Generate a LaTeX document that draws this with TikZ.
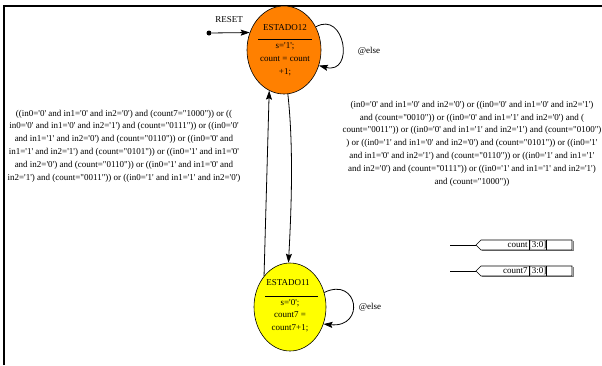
\documentclass[tikz,border=0pt]{standalone}
\usepackage{fontspec}
\setmainfont{Liberation Serif}[Ligatures=TeXOff]
\usetikzlibrary{%
  arrows.meta,%
  shapes.geometric% wg. ellipse
}
\definecolor{stOrange}{RGB}{255,128,0}
\definecolor{stYellow}{RGB}{255,255,0}

\begin{document}
\begin{tikzpicture}[
  x=1pt,y=-1pt,
  font=\fontsize{9}{12.8}\selectfont,
  >={Stealth[length=9pt,width=6pt,inset=1.5pt]},
  line width=0.8pt,
  state/.style={draw,ellipse,line width=0.6pt,minimum width=74pt,minimum height=88pt,inner sep=0pt},
  cond/.style={align=center,inner sep=0pt},
]
\useasboundingbox (0,0) rectangle (602,365);
\draw [line width=2pt] (4,365) -- (4,6) -- (602,6);

% states
\node[state,fill=stOrange] (s12) at (284,50) {};
\node[state,fill=stYellow,minimum width=72pt] (s11) at (290,307) {};

\node (t12) at (285,28) {ESTADO12};
\draw (258,39) -- (312,39);
\node[cond] (b12) at (285,59.5) {s='1';\\count = count\\+1;};

\node (t11) at (288,283) {ESTADO11};
\draw (265,296) -- (318,296);
\node[cond] (b11) at (290,315.5) {s='0';\\count7 =\\count7+1;};

% reset
\node[circle,fill,inner sep=0pt,minimum size=5pt] (rst) at (209,33) {};
\node (trst) at (229,20) {RESET};
\draw [->] (rst) -- (s12.153);

% transitions
\draw [->] (s12.36) .. controls (345,10) and (355,75) .. (s12.-24);
\node (e12) at (369,51) {@else};
\draw [->] (s11.23) .. controls (358,276) and (366,328) .. (s11.-27);
\node (e11) at (370,307) {@else};

\draw [->] (s12.-85) .. controls (294,150) and (291,215) .. (s11.92);
\draw [->] (s11.130) -- (s12.250);

\node[cond] (c11) at (124,146) {((in0='0' and in1='0' and in2='0') and (count7="1000")) or ((\\
in0='0' and in1='0' and in2='1') and (count="0111")) or ((in0='0'\\
and in1='1' and in2='0') and (count="0110")) or ((in0='0' and\\
in1='1' and in2='1') and (count="0101")) or ((in0='1' and in1='0'\\
and in2='0') and (count="0110")) or ((in0='1' and in1='0' and\\
in2='1') and (count="0011")) or ((in0='1' and in1='1' and in2='0')};

\node[cond] (c12) at (472,143.5) {(in0='0' and in1='0' and in2='0') or ((in0='0' and in1='0' and in2='1')\\
and (count="0010")) or ((in0='0' and in1='1' and in2='0') and (\\
count="0011")) or ((in0='0' and in1='1' and in2='1') and (count="0100")\\
) or ((in0='1' and in1='0' and in2='0') and (count="0101")) or ((in0='1'\\
and in1='0' and in2='1') and (count="0110")) or ((in0='1' and in1='1'\\
and in2='0') and (count="0111")) or ((in0='1' and in1='1' and in2='1')\\
and (count="1000"))};

% outputs
\foreach \y/\sig in {245/count, 271/count7} {
  \coordinate (bus\sig) at (476,\y);
  \draw [line width=0.6pt] (bus\sig) -- ++(-26,0);
  \draw [gray,line width=1pt] (573,\y-4) -- (573,\y+5.5) -- (482,\y+5.5);
  \draw [line width=0.6pt,fill=white] (bus\sig) -- ++(5,-5) -- ++(91,0) -- ++(0,10) -- ++(-91,0) -- cycle;
  \draw [line width=0.6pt] (529,\y-5) -- ++(0,10);
  \draw [line width=0.6pt] (546,\y-5) -- ++(0,10);
  \node[anchor=east,inner sep=1pt] (lbl\sig) at (529,\y) {\sig};
  \node[inner sep=0pt] (rng\sig) at (537.5,\y) {[3:0]};
}

\end{tikzpicture}
\end{document}
